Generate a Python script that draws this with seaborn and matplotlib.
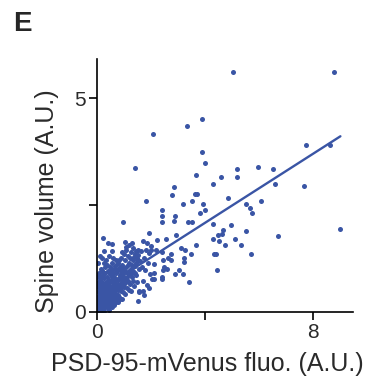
import numpy as np
import pandas as pd
import matplotlib
matplotlib.use("Agg")
import matplotlib.pyplot as plt
import seaborn as sns

#------------ data -----------
# dense cluster near the origin: (PSD-95-mVenus fluo, spine volume)
core = [
    (0.02,0.03),(0.05,0.10),(0.08,0.04),(0.10,0.15),(0.12,0.08),(0.15,0.22),(0.18,0.12),(0.20,0.05),
    (0.22,0.30),(0.25,0.18),(0.28,0.10),(0.30,0.25),(0.33,0.35),(0.35,0.15),(0.38,0.28),(0.40,0.08),
    (0.42,0.40),(0.45,0.22),(0.48,0.33),(0.50,0.14),(0.03,0.20),(0.06,0.32),(0.09,0.25),(0.11,0.40),
    (0.14,0.35),(0.16,0.05),(0.19,0.45),(0.21,0.20),(0.24,0.42),(0.27,0.36),(0.29,0.48),(0.32,0.12),
    (0.36,0.45),(0.39,0.50),(0.44,0.05),(0.47,0.45),(0.04,0.45),(0.07,0.55),(0.10,0.60),(0.13,0.50),
    (0.17,0.62),(0.23,0.55),(0.26,0.65),(0.31,0.58),(0.05,0.70),(0.12,0.75),(0.18,0.80),(0.08,0.90),
    (0.15,1.00),(0.22,0.92),(0.28,0.78),(0.34,0.70),(0.02,0.60),(0.06,0.02),(0.13,0.18),(0.26,0.02),
    (0.52,0.45),(0.55,0.60),(0.58,0.35),(0.60,0.70),(0.62,0.50),(0.65,0.82),(0.68,0.42),(0.70,0.65),
    (0.72,0.90),(0.75,0.55),(0.78,0.75),(0.80,1.00),(0.82,0.62),(0.85,0.85),(0.88,0.48),(0.90,0.95),
    (0.92,0.70),(0.95,1.10),(0.98,0.80),(1.00,0.58),(0.53,0.25),(0.57,0.80),(0.63,0.28),(0.66,1.00),
    (0.71,0.32),(0.74,1.12),(0.79,0.40),(0.83,1.20),(0.87,0.30),(0.91,1.25),(0.96,0.45),(0.99,1.02),
    (0.40,0.62),(0.45,0.75),(0.50,0.88),(0.42,0.95),(0.48,1.05),(0.55,1.15),(0.38,1.10),(0.60,1.25),
    (0.35,1.20),(0.44,1.30),(0.30,1.05),(0.58,0.98),(0.67,0.60),(0.76,0.95),(0.84,0.52),(0.93,0.88),
    (0.73,0.22),(0.64,0.15),
    (1.02,0.95),(1.05,1.20),(1.08,0.75),(1.10,1.05),(1.12,0.55),(1.15,1.30),(1.18,0.88),(1.20,1.15),
    (1.22,0.65),(1.25,1.00),(1.28,1.40),(1.30,0.80),(1.33,1.22),(1.35,0.95),(1.38,0.60),(1.40,1.35),
    (1.42,1.08),(1.45,0.85),(1.48,1.25),(1.50,0.70),(1.52,1.45),(1.55,1.00),(1.58,0.49),(1.60,1.18),
    (1.05,0.42),(1.25,0.48),(1.35,1.50),(1.10,1.45),(1.20,1.55),(1.00,1.35),(0.95,1.40),
    (1.30,1.60),(1.51,0.26),
    (0.01,0.12),(0.03,0.35),(0.04,0.06),(0.06,0.18),(0.07,0.28),(0.09,0.12),(0.11,0.22),(0.12,0.32),
    (0.14,0.10),(0.16,0.28),(0.17,0.40),(0.19,0.18),(0.21,0.35),(0.23,0.12),(0.25,0.28),(0.27,0.48),
    (0.29,0.20),(0.31,0.38),(0.33,0.22),(0.35,0.55),(0.37,0.35),(0.39,0.18),(0.41,0.30),(0.43,0.52),
    (0.46,0.38),(0.49,0.60),(0.51,0.28),(0.54,0.50),(0.56,0.40),(0.59,0.58),(0.61,0.38),(0.64,0.68),
    (0.66,0.48),(0.69,0.75),(0.71,0.55),(0.74,0.40),(0.77,0.65),(0.80,0.50),(0.83,0.78),(0.86,0.62),
    (0.89,0.88),(0.91,0.55),(0.94,0.75),(0.97,0.62),(1.01,0.80),(1.04,0.68),(1.07,0.92),(1.11,0.82),
    (1.14,1.10),(1.17,0.72),(1.21,0.95),(1.24,1.25),(1.27,0.88),(1.31,1.10),(1.34,0.72),(1.37,1.28),
    (1.41,0.90),(1.44,1.15),(1.47,1.42),(1.53,1.20),
    (0.08,0.68),(0.15,0.78),(0.20,0.70),(0.25,0.85),(0.32,0.90),(0.37,0.80),(0.46,0.92),(0.52,0.72),
    (0.62,0.90),(0.68,1.08),(0.78,1.15),(0.86,1.05),(0.10,0.85),(0.18,0.95),(0.03,0.80),(0.28,1.15),
    (0.52,1.02),(0.70,1.20),
    (0.60,0.20),(0.68,0.30),(0.78,0.22),(0.82,0.35),(0.95,0.30),(1.18,0.50),
    (0.55,0.10),(0.48,0.18),
]

# sparse points around the cluster
mid = [
    (0.22,1.73),(0.42,1.60),(0.58,1.59),(0.27,1.43),(0.58,1.43),(1.05,1.64),(1.08,1.52),(0.97,2.10),
    (0.12,1.30),(0.05,1.15),(0.20,1.25),
    (1.70,1.65),(1.84,1.60),(1.99,1.54),(2.00,1.45),(1.93,1.38),(1.82,1.45),(1.62,1.42),(1.54,1.33),
    (1.75,1.25),(1.90,1.15),(2.13,1.12),(1.66,1.05),(1.80,0.98),(1.96,0.88),(2.05,0.77),(1.70,0.72),
    (1.85,0.62),(1.95,0.55),(1.75,0.40),
    (2.20,1.45),(2.40,1.39),(2.73,1.34),(2.73,1.21),(2.46,1.21),(2.62,1.25),(3.24,1.25),(3.24,1.16),
    (2.50,1.05),(2.60,1.00),(2.45,0.98),(3.05,0.98),(2.88,0.88),(3.20,0.88),(2.42,0.80),(2.42,0.76),
    (2.10,0.77),(2.13,0.90),(1.58,0.47),(1.72,0.49),
]

# points spread over the rest of the panel
outer = [
    (5.02,5.62),(8.78,5.62),(3.90,4.50),(3.34,4.35),(2.07,4.16),(7.73,3.91),(8.63,3.89),(3.88,3.73),
    (3.99,3.49),(1.42,3.37),(5.19,3.33),(5.97,3.38),(6.52,3.34),(5.19,3.16),(4.60,3.16),(3.66,3.21),
    (4.28,2.99),(6.60,2.98),(7.64,2.95),(2.87,2.91),(2.78,2.73),(3.64,2.75),(3.72,2.75),(4.86,2.65),
    (1.81,2.59),(6.07,2.59),(5.53,2.53),(3.18,2.53),(3.51,2.58),(3.91,2.53),(5.66,2.42),(5.75,2.31),
    (4.01,2.39),(3.82,2.30),(2.41,2.38),(2.41,2.23),(2.89,2.24),(2.41,2.11),(2.86,2.13),(3.36,2.11),
    (3.53,2.09),(4.28,2.05),(4.96,2.02),(9.00,1.93),(4.68,1.91),(4.62,1.81),(4.49,1.79),(5.50,1.88),
    (6.71,1.78),(1.94,1.85),(2.94,1.79),(2.57,1.70),(2.23,1.67),(4.31,1.71),(4.50,1.66),(5.12,1.69),
    (5.33,1.56),(4.75,1.55),(3.67,1.57),(3.10,1.48),(3.26,1.45),(3.50,1.34),(4.35,1.36),(4.41,1.34),
    (5.70,1.35),(4.44,0.98),(3.42,0.70),
]

df = pd.DataFrame(core + mid + outer, columns=["fluo", "volume"])

x_ticks = [0, 4, 8]
x_ticklabels = ["0", "", "8"]
y_ticks = [0, 2.5, 5]
y_ticklabels = ["0", "", "5"]

#------------ plot -----------
blue = "#3a55a5"
sns.set_style("ticks")
plt.rcParams["font.family"] = ["Liberation Sans", "DejaVu Sans"]

fig = plt.figure(figsize=(3.69, 3.92), dpi=100)
ax = fig.add_axes([0.262, 0.205, 0.695, 0.644])

sns.regplot(data=df, x="fluo", y="volume", ax=ax, ci=None, color=blue,
            scatter_kws=dict(s=13, linewidths=0, alpha=1),
            line_kws=dict(lw=1.7))

ax.set_xlim(0, 9.47)
ax.set_ylim(0, 5.91)
ax.set_xticks(x_ticks)
ax.set_xticklabels(x_ticklabels)
ax.set_yticks(y_ticks)
ax.set_yticklabels(y_ticklabels)
ax.tick_params(direction="out", length=6, width=1.2, colors="black",
               labelsize=15, labelcolor="#2a2a2a", pad=2)
sns.despine(ax=ax)
for s in ["left", "bottom"]:
    ax.spines[s].set_linewidth(1.2)
    ax.spines[s].set_color("black")

ax.set_xlabel("PSD-95-mVenus fluo. (A.U.)", fontsize=18, color="#2a2a2a", va="center")
ax.set_ylabel("Spine volume (A.U.)", fontsize=18, color="#2a2a2a", va="center")
ax.xaxis.set_label_coords(0.432, -0.207)
ax.yaxis.set_label_coords(-0.194, 0.439)

fig.text(13 / 369, 1 - 11 / 392, "E", fontsize=20, fontweight="bold", va="top", ha="left")

fig.savefig("out.png", dpi=100)
